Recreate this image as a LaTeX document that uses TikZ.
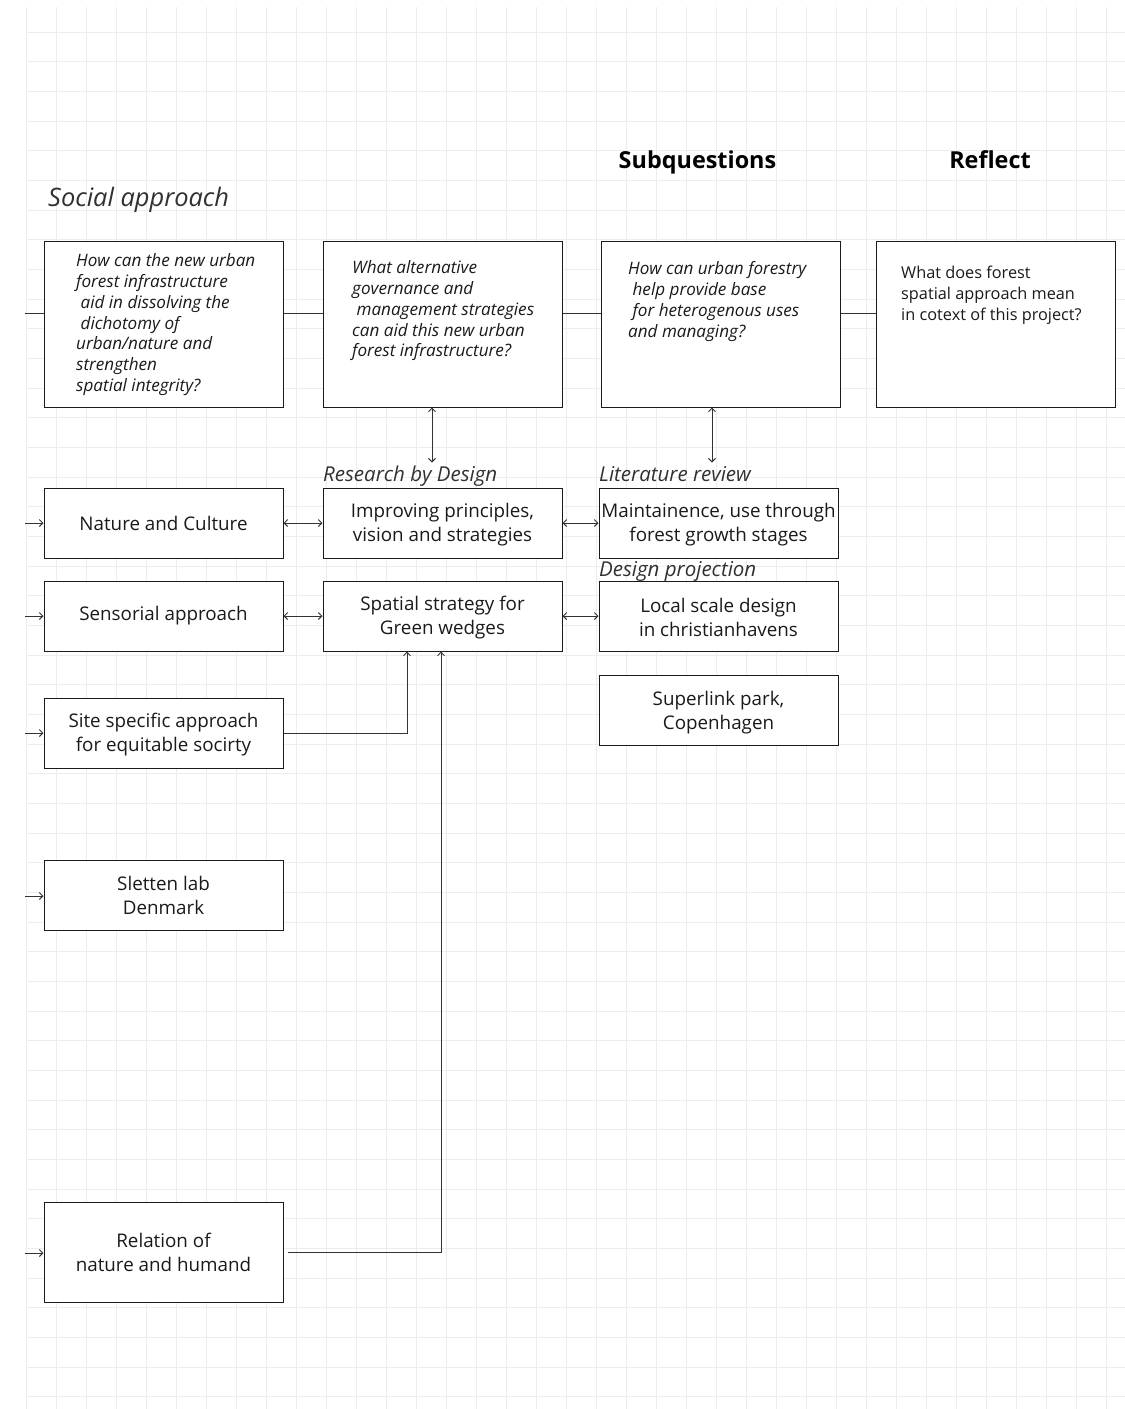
\documentclass[tikz,border=0pt]{standalone}
\usepackage{fontspec}
\setmainfont{Open Sans}
\usetikzlibrary{arrows.meta}
\definecolor{gridc}{HTML}{EDEDED}
\definecolor{ink}{HTML}{1A1A1A}
\definecolor{wire}{HTML}{333333}
\newcommand{\lift}{\rule{0pt}{18pt}}
\begin{document}
\begin{tikzpicture}[x=1pt,y=-1pt,
  gridline/.style={draw=gridc,line width=1pt},
  box/.style={draw=ink,line width=1pt,fill=white,minimum width=239pt,inner sep=0pt,align=center,text=ink,font=\fontsize{18.8}{24}\selectfont},
  qtext/.style={anchor=north west,inner sep=0pt,align=left,text=ink,font=\fontsize{17.1}{20.8}\selectfont\itshape},
  rtext/.style={anchor=north west,inner sep=0pt,align=left,text=ink,font=\fontsize{16.3}{20.8}\selectfont},
  title/.style={anchor=base,inner sep=0pt,text=black,font=\fontsize{23.4}{28}\selectfont\bfseries},
  lbl/.style={anchor=base west,inner sep=0pt,text=ink!90,font=\fontsize{20.5}{24}\selectfont\itshape},
  wirel/.style={draw=wire,line width=0.9pt},
  tip/.style={-{Straight Barb[length=3.5pt,width=7pt]}},
  dtip/.style={{Straight Barb[length=3.5pt,width=7pt]}-{Straight Barb[length=3.5pt,width=7pt]}}
]
\useasboundingbox (0,0) rectangle (1125,1409);
\fill[white] (0,0) rectangle (1125,1409);
% grid
\foreach \i in {0,...,36} \draw[gridline] ({26+30*\i},7) -- ({26+30*\i},1409);
\foreach \j in {0,...,46} \draw[gridline] (26,{32.3+29.66*\j}) -- (1125,{32.3+29.66*\j});

% titles
\node[title] (tsub) at (697.5,168) {Subquestions};
\node[title] (tref) at (990,168) {Reflect};
\node[anchor=base west,inner sep=0pt,text=ink!90,font=\fontsize{25.4}{30}\selectfont\itshape] (tsoc) at (48,206.5) {Social approach};

% question row
\node[box,minimum height=166pt] (A) at (163.5,324) {};
\node[box,minimum height=166pt] (B) at (442.5,324) {};
\node[box,minimum height=166pt] (C) at (720.5,324) {};
\node[box,minimum height=166pt] (D) at (995.5,324) {};
\node[qtext] (At) at (76,253.5) {How can the new urban\\forest infrastructure\\\ aid in dissolving the\\\ dichotomy of\\urban/nature and\\strengthen\\spatial integrity?};
\node[qtext] (Bt) at (352,260.5) {What alternative\\governance and\\\ management strategies\\can aid this new urban\\forest infrastructure?};
\node[qtext] (Ct) at (628,261.5) {How can urban forestry\\\ help provide base\\\ for heterogenous uses\\and managing?};
\node[rtext] (Dt) at (901,266) {What does forest\\spatial approach mean\\in cotext of this project?};

% method labels
\node[lbl] (lrd) at (323,481) {Research by Design};
\node[lbl] (llr) at (599,481) {Literature review};
\node[lbl] (ldp) at (599,576) {Design projection};

% boxes
\node[box,minimum height=70pt] (NC) at (163.5,523) {Nature and Culture};
\node[box,minimum height=70pt] (IP) at (442.5,523) {\lift Improving principles,\\vision and strategies};
\node[box,minimum height=70pt] (MU) at (718.5,523) {\lift Maintainence, use through\\forest growth stages};
\node[box,minimum height=70pt] (SA) at (163.5,616) {Sensorial approach};
\node[box,minimum height=70pt] (SS) at (442.5,616) {\lift Spatial strategy for\\Green wedges};
\node[box,minimum height=70pt] (LS) at (718.5,616) {\lift Local scale design\\in christianhavens};
\node[box,minimum height=70pt] (SL) at (718.5,710.5) {\lift Superlink park,\\Copenhagen};
\node[box,minimum height=70pt] (SP) at (163.5,733) {\lift Site specific approach\\for equitable socirty};
\node[box,minimum height=70pt] (SD) at (163.5,895) {Sletten lab\\Denmark};
\node[box,minimum height=100pt] (RN) at (163.5,1252.5) {Relation of\\nature and humand};

% free ends
\coordinate (q0) at (25,313);
\coordinate (i1) at (25,523);
\coordinate (i2) at (25,616);
\coordinate (i3) at (25,733);
\coordinate (i4) at (25,896);
\coordinate (i5) at (25,1253);

% row connectors
\draw[wirel] (q0) -- (q0 -| A.west);
\draw[wirel] (q0 -| A.east) -- (q0 -| B.west);
\draw[wirel] (q0 -| B.east) -- (q0 -| C.west);
\draw[wirel] (q0 -| C.east) -- (q0 -| D.west);

% vertical double arrows
\draw[wirel,dtip] ([xshift=-10.5pt]B.south) -- ([xshift=-10.5pt,yshift=-55pt]B.south);
\draw[wirel,dtip] ([xshift=-8.5pt]C.south) -- ([xshift=-8.5pt,yshift=-55pt]C.south);

% horizontal double arrows
\draw[wirel,dtip] (NC) -- (IP);
\draw[wirel,dtip] (IP) -- (MU);
\draw[wirel,dtip] (SA) -- (SS);
\draw[wirel,dtip] (SS) -- (LS);

% incoming arrows
\draw[wirel,tip] (i1) -- (i1 -| NC.west);
\draw[wirel,tip] (i2) -- (i2 -| SA.west);
\draw[wirel,tip] (i3) -- (i3 -| SP.west);
\draw[wirel,tip] (i4) -- (i4 -| SD.west);
\draw[wirel,tip] (i5) -- (i5 -| RN.west);

% elbow connectors
\draw[wirel,tip] (SP.east) -| ([xshift=-35.5pt]SS.south);
\draw[wirel,tip] ([xshift=4pt]RN.east) -| ([xshift=-1.5pt]SS.south);
\end{tikzpicture}
\end{document}
